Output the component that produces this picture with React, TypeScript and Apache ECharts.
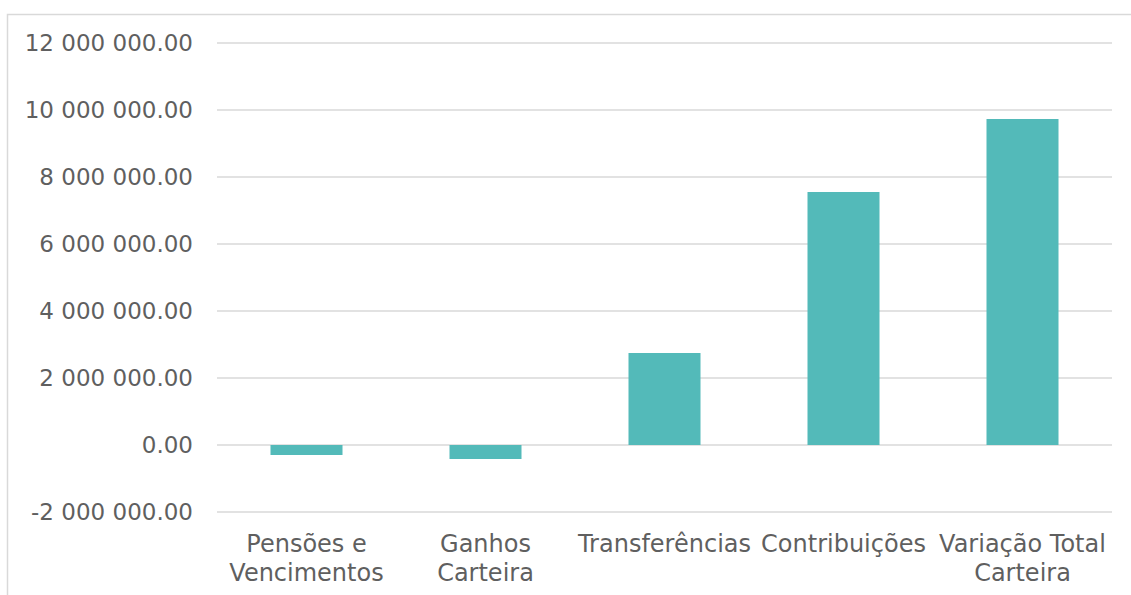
import React, { useEffect, useRef } from "react";
import * as echarts from "echarts";

const categories = [
  "Pensões e\nVencimentos",
  "Ganhos\nCarteira",
  "Transferências",
  "Contribuições",
  "Variação Total\nCarteira",
];
const values = [-300000, -420000, 2750000, 7550000, 9730000];
const yMin = -2000000;
const yMax = 12000000;
const yStep = 2000000;

function fmt(v: number): string {
  const neg = v < 0;
  const s = Math.abs(v).toFixed(2);
  const [intPart, dec] = s.split(".");
  const grouped = intPart.replace(/\B(?=(\d{3})+(?!\d))/g, " ");
  return (neg ? "-" : "") + grouped + "." + dec;
}

export default function App() {
  const ref = useRef<HTMLDivElement>(null);
  useEffect(() => {
    if (!ref.current) return;
    const chart = echarts.init(ref.current, undefined, { renderer: "svg" });
    const font = "'DejaVu Sans', sans-serif";
    chart.setOption({
      animation: false,
      backgroundColor: "#ffffff",
      graphic: [
        {
          type: "rect",
          x: 7.5,
          y: 14.5,
          shape: { x: 0, y: 0, width: 1300, height: 800 },
          style: { fill: "none", stroke: "#d9d9d9", lineWidth: 1.5 },
          silent: true,
          z: -1,
        },
      ],
      grid: { left: 217, right: 19, top: 43, bottom: 83, containLabel: false },
      xAxis: {
        type: "category",
        data: categories,
        axisLine: { show: false },
        axisTick: { show: false },
        axisLabel: {
          interval: 0,
          color: "#5f5f5f",
          fontFamily: font,
          fontSize: 24,
          lineHeight: 29,
          margin: 17,
        },
      },
      yAxis: {
        type: "value",
        min: yMin,
        max: yMax,
        interval: yStep,
        axisLine: { show: false },
        axisTick: { show: false },
        splitLine: { lineStyle: { color: "#d9d9d9", width: 1.5 } },
        axisLabel: {
          color: "#5f5f5f",
          fontFamily: font,
          fontSize: 23,
          margin: 24,
          formatter: (v: number) => fmt(v),
        },
      },
      series: [
        {
          type: "bar",
          data: values,
          barWidth: 72,
          itemStyle: { color: "#53bab9" },
        },
      ],
    });
    return () => chart.dispose();
  }, []);
  return (
    <div
      ref={ref}
      style={{ position: "fixed", left: 0, top: 0, width: 1131, height: 595 }}
    />
  );
}
